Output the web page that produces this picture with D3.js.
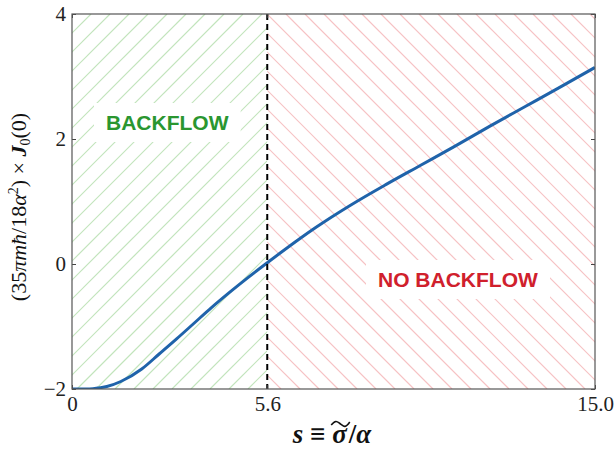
<!DOCTYPE html>
<html>
<head>
<meta charset="utf-8">
<script src="https://cdn.jsdelivr.net/npm/d3@7"></script>
<style>
  body { margin: 0; background: #fff; }
  svg { display: block; }
</style>
</head>
<body>
<div id="chart"></div>
<script>
// curve
var sVals = [0, 0.5, 0.8, 1.0, 1.4, 2.0, 2.5, 3.0, 3.5, 4.0, 4.5, 5.0, 5.6, 6.0, 6.5, 7, 8, 9, 10, 11, 12, 13, 14, 15];
var jVals = [-2, -2, -1.98, -1.96, -1.88, -1.68, -1.44, -1.198, -0.948, -0.698, -0.463, -0.238, 0.02, 0.188, 0.393, 0.588, 0.945, 1.27, 1.58, 1.89, 2.21, 2.52, 2.83, 3.145];
var xTicks = [0, 5.6, 15.0];
var xTickLabels = ["0", "5.6", "15.0"];
var yTicks = [-2, 0, 2, 4];
var yTickLabels = ["\u22122", "0", "2", "4"];
var sCritical = 5.6;
var regionLabels = ["BACKFLOW", "NO BACKFLOW"];

var W = 614, H = 457;
var margin = {top: 14, right: 19, bottom: 68, left: 72};
var width = W - margin.left - margin.right,
    height = H - margin.top - margin.bottom;

var svg = d3.select("#chart").append("svg")
    .attr("width", W)
    .attr("height", H);

var defs = svg.append("defs");

var g = svg.append("g")
    .attr("transform", "translate(" + margin.left + "," + margin.top + ")");

var x = d3.scaleLinear().domain([0, 15]).range([0, width]);
var y = d3.scaleLinear().domain([-2, 4]).range([height, 0]);

defs.append("clipPath").attr("id", "clip").append("rect")
    .attr("width", width).attr("height", height);
defs.append("clipPath").attr("id", "clipL").append("rect")
    .attr("x", x(0)).attr("width", x(sCritical) - x(0)).attr("height", height);
defs.append("clipPath").attr("id", "clipR").append("rect")
    .attr("x", x(sCritical)).attr("width", x(15) - x(sCritical)).attr("height", height);

var plot = g.append("g").attr("clip-path", "url(#clip)");

// hatching: "/" on the left, "\" on the right
var step = 19;
var offs = d3.range(-height - step, width + height + step, step);
plot.append("g").attr("clip-path", "url(#clipL)")
  .selectAll("line").data(offs).enter().append("line")
    .attr("x1", function(d) { return d; }).attr("y1", height)
    .attr("x2", function(d) { return d + height; }).attr("y2", 0)
    .attr("stroke", "#c2e4bc").attr("stroke-width", 1.2);
plot.append("g").attr("clip-path", "url(#clipR)")
  .selectAll("line").data(offs).enter().append("line")
    .attr("x1", function(d) { return d; }).attr("y1", 0)
    .attr("x2", function(d) { return d + height; }).attr("y2", height)
    .attr("stroke", "#f6c2c4").attr("stroke-width", 1.2);

// labels with white boxes
function boxLabel(txt, tx, ty, color) {
  var t = plot.append("text")
      .attr("x", tx).attr("y", ty)
      .attr("font-family", "Liberation Sans, Arial, sans-serif")
      .attr("font-weight", "bold")
      .attr("font-size", 21)
      .attr("fill", color)
      .text(txt);
  var bb = t.node().getBBox();
  plot.insert("rect", function() { return t.node(); })
      .attr("x", bb.x - 12).attr("y", bb.y - 8)
      .attr("width", bb.width + 24).attr("height", bb.height + 16)
      .attr("fill", "#fff");
}
boxLabel(regionLabels[0], 106 - margin.left, 130 - margin.top, "#2a9630");
boxLabel(regionLabels[1], 378 - margin.left, 287 - margin.top, "#d0202c");

// curve
var line = d3.line()
    .x(function(d, i) { return x(sVals[i]); })
    .y(function(d) { return y(d); })
    .curve(d3.curveMonotoneX);
plot.append("path")
    .datum(jVals)
    .attr("d", line)
    .attr("fill", "none")
    .attr("stroke", "#1f63aa")
    .attr("stroke-width", 3);

// critical s
g.append("line")
    .attr("x1", x(sCritical)).attr("x2", x(sCritical))
    .attr("y1", 0).attr("y2", height)
    .attr("stroke", "#000")
    .attr("stroke-width", 2)
    .attr("stroke-dasharray", "6,4");

// axes (ticks inward)
var fontSerif = "Liberation Serif, DejaVu Serif, serif";
var xAxis = g.append("g")
    .attr("transform", "translate(0," + height + ")")
    .call(d3.axisBottom(x).tickValues(xTicks).tickSizeInner(-4).tickSizeOuter(0)
      .tickFormat(function(d, i) { return xTickLabels[i]; }).tickPadding(7));
var yAxis = g.append("g")
    .call(d3.axisLeft(y).tickValues(yTicks).tickSizeInner(-4).tickSizeOuter(0)
      .tickFormat(function(d, i) { return yTickLabels[i]; }).tickPadding(8));
g.append("g")
    .attr("transform", "translate(" + width + ",0)")
    .call(d3.axisRight(y).tickValues(yTicks).tickSizeInner(-4).tickSizeOuter(0).tickFormat(""));
g.append("g")
    .call(d3.axisTop(x).tickValues(xTicks).tickSizeInner(-4).tickSizeOuter(0).tickFormat(""));

g.selectAll(".domain").remove();
g.selectAll(".tick line").attr("stroke", "#444");
g.selectAll(".tick text")
    .attr("font-family", fontSerif)
    .attr("font-size", 21)
    .attr("fill", "#222");
xAxis.selectAll(".tick text").attr("dy", "0.71em");
yAxis.selectAll(".tick text").attr("dx", "2");

// frame
g.append("rect")
    .attr("width", width).attr("height", height)
    .attr("fill", "none")
    .attr("stroke", "#555")
    .attr("stroke-width", 1.2);

// axis titles
var xt = svg.append("text")
    .attr("x", 332)
    .attr("y", 443)
    .attr("text-anchor", "middle")
    .attr("font-family", fontSerif)
    .attr("font-size", 27)
    .attr("font-weight", "bold")
    .attr("fill", "#111");
xt.append("tspan").attr("font-style", "italic").text("s");
xt.append("tspan").text(" \u2261 ");
xt.append("tspan").attr("font-style", "italic").text("\u03C3");
xt.append("tspan").attr("dx", 2).text("/");
xt.append("tspan").attr("font-style", "italic").text("\u03B1");
// wide tilde over sigma
var p0 = xt.node().getStartPositionOfChar(4),
    p1 = xt.node().getEndPositionOfChar(4);
var tx0 = p0.x - 1, tx1 = p1.x + 3, ty = 423;
svg.append("path")
    .attr("d", "M" + tx0 + "," + (ty + 2) +
      " C" + (tx0 + 5) + "," + (ty - 4) + " " + ((tx0 + tx1) / 2 - 3) + "," + (ty - 1) + " " + ((tx0 + tx1) / 2) + "," + (ty + 1) +
      " S" + (tx1 - 5) + "," + (ty + 6) + " " + tx1 + "," + (ty - 1))
    .attr("fill", "none")
    .attr("stroke", "#111")
    .attr("stroke-width", 1.6);

var yt = svg.append("text")
    .attr("transform", "translate(26," + 207 + ") rotate(-90)")
    .attr("text-anchor", "middle")
    .attr("font-family", fontSerif)
    .attr("font-size", 22)
    .attr("fill", "#111");
yt.append("tspan").text("(35");
yt.append("tspan").attr("font-style", "italic").text("\u03C0m\u0127");
yt.append("tspan").text("/18");
yt.append("tspan").attr("font-style", "italic").text("\u03B1");
yt.append("tspan").attr("font-size", 14).attr("dy", -8).text("2");
yt.append("tspan").attr("dy", 8).text(") \u00D7 ");
yt.append("tspan").attr("font-style", "italic").attr("font-weight", "bold").text("J");
yt.append("tspan").attr("font-size", 14).attr("dy", 4).text("0");
yt.append("tspan").attr("dy", -4).text("(0)");
</script>
</body>
</html>
